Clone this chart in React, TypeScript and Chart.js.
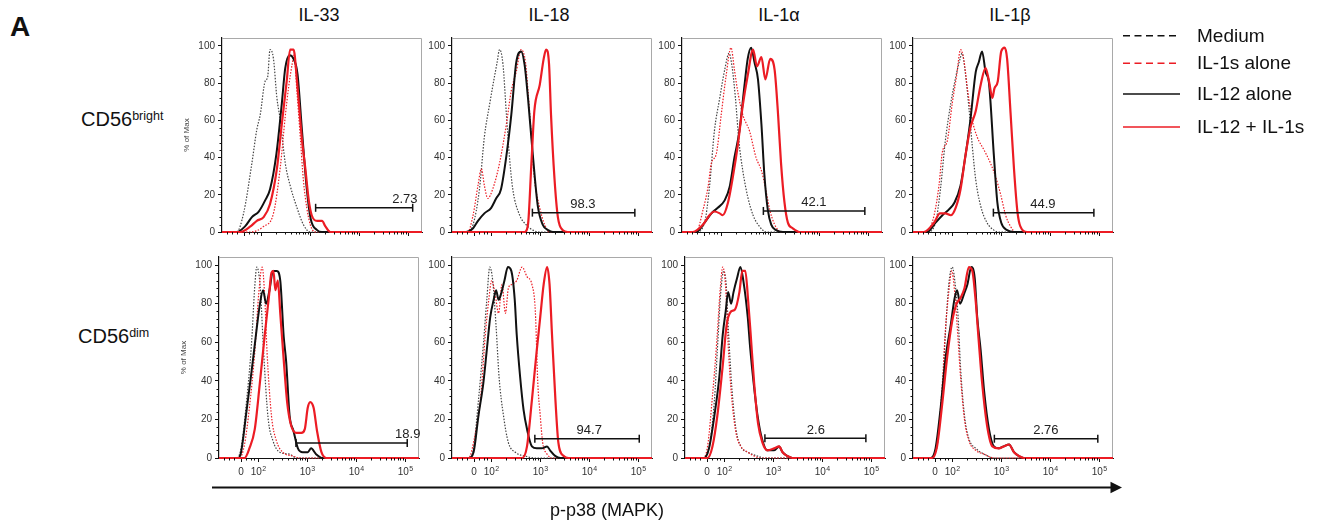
import React, { useEffect, useRef } from 'react';
import { Chart, registerables } from 'chart.js';

Chart.register(...registerables);

const FONT = 'Arial, "Liberation Sans", Helvetica, sans-serif';
Chart.defaults.font.family = FONT;

type P = [number, number];

// axis ranges (x = log10 of p-p38 fluorescence, display scale)
const X_MIN = 1.2;
const X_MAX = 5.28;
const Y_MAX = 104.2;

const columnTitles = ['IL-33', 'IL-18', 'IL-1α', 'IL-1β'];
const rowLabels = ['bright', 'dim'];
const legendLabels = ['Medium', 'IL-1s alone', 'IL-12 alone', 'IL-12 + IL-1s'];
const xTickValues = [1.65, 2, 3, 4, 5];
const xTickLabels = ['0', '10²', '10³', '10⁴', '10⁵'];
const yTickValues = [0, 20, 40, 60, 80, 100];
const xMinorTicks = [1.3, 1.4, 1.5, 1.75, 1.85, 1.92,
  2.3, 2.48, 2.6, 2.7, 2.78, 2.85, 2.9, 2.95,
  3.3, 3.48, 3.6, 3.7, 3.78, 3.85, 3.9, 3.95,
  4.3, 4.48, 4.6, 4.7, 4.78, 4.85, 4.9, 4.95];

// ---- CD56 bright ----
const brightIL33Medium: P[] = [[1.50,0],[1.64,10],[1.81,37],[1.91,55],[1.98,63],[2.08,81],[2.13,83],[2.18,98],[2.25,93],[2.32,72],[2.39,60],[2.49,37],[2.59,25],[2.73,13],[2.86,4],[3.0,0]];
const brightIL33IL1s: P[] = [[1.78,0],[2.05,3],[2.25,10],[2.39,35],[2.49,62],[2.56,78],[2.63,90],[2.67,95],[2.73,75],[2.80,50],[2.86,28],[2.93,13],[3.0,4],[3.10,0]];
const brightIL33IL12: P[] = [[1.50,0],[1.67,3],[1.81,8],[1.95,11],[2.08,17],[2.18,23],[2.31,42],[2.42,69],[2.49,88],[2.58,95],[2.66,93],[2.74,85],[2.83,55],[2.93,23],[3.01,7],[3.14,1],[3.24,0]];
const brightIL33Combo: P[] = [[1.57,0],[1.78,3],[1.91,6],[2.05,8],[2.18,15],[2.32,34],[2.42,58],[2.52,81],[2.59,98],[2.66,98],[2.73,81],[2.83,50],[2.90,34],[2.97,17],[3.03,9],[3.14,6],[3.24,6],[3.31,3],[3.41,0]];

const brightIL18Medium: P[] = [[1.49,0],[1.63,4],[1.76,23],[1.86,51],[1.97,69],[2.07,84],[2.12,91],[2.17,98],[2.24,90],[2.31,63],[2.37,41],[2.44,23],[2.58,9],[2.71,4],[2.85,1],[2.99,0]];
const brightIL18IL1s: P[] = [[1.52,0],[1.63,9],[1.73,25],[1.80,34],[1.86,25],[1.93,18],[2.03,23],[2.17,37],[2.31,58],[2.41,76],[2.51,86],[2.61,98],[2.70,91],[2.75,76],[2.82,51],[2.88,29],[2.99,13],[3.09,4],[3.19,0]];
const brightIL18IL12: P[] = [[1.49,0],[1.63,2],[1.73,6],[1.86,10],[2.0,13],[2.10,18],[2.20,23],[2.31,41],[2.41,63],[2.51,91],[2.61,97],[2.68,90],[2.75,72],[2.85,41],[2.95,14],[3.05,4],[3.16,1],[3.26,0]];
const brightIL18Combo: P[] = [[2.68,0],[2.75,4],[2.82,37],[2.88,65],[2.99,79],[3.07,93],[3.12,98],[3.18,90],[3.22,63],[3.29,29],[3.36,8],[3.46,1],[3.56,0]];

const brightIL1aMedium: P[] = [[1.49,0],[1.66,5],[1.76,24],[1.86,54],[1.97,72],[2.07,87],[2.16,96],[2.22,89],[2.29,72],[2.36,49],[2.44,33],[2.54,19],[2.65,9],[2.78,3],[2.92,0]];
const brightIL1aIL1s: P[] = [[1.49,0],[1.63,12],[1.73,24],[1.80,37],[1.90,42],[2.0,63],[2.10,84],[2.20,99],[2.27,87],[2.34,75],[2.44,63],[2.58,54],[2.71,40],[2.82,33],[2.90,24],[2.99,12],[3.09,4],[3.22,0]];
const brightIL1aIL12: P[] = [[1.49,0],[1.66,5],[1.80,10],[1.93,13],[2.07,17],[2.17,24],[2.27,40],[2.37,54],[2.48,80],[2.54,93],[2.61,99],[2.68,91],[2.75,82],[2.82,58],[2.88,31],[2.95,12],[3.02,4],[3.12,1],[3.26,0]];
const brightIL1aCombo: P[] = [[1.42,0],[1.63,4],[1.76,9],[1.86,11],[1.97,10],[2.03,9],[2.14,16],[2.24,30],[2.34,47],[2.44,68],[2.54,84],[2.65,98],[2.73,89],[2.82,94],[2.90,82],[3.0,93],[3.09,87],[3.16,63],[3.22,37],[3.29,16],[3.36,5],[3.46,2],[3.60,0]];

const brightIL1bMedium: P[] = [[1.49,0],[1.66,5],[1.76,23],[1.86,49],[1.97,69],[2.07,83],[2.16,93],[2.20,96],[2.27,85],[2.34,67],[2.41,46],[2.48,28],[2.58,14],[2.71,5],[2.85,1],[2.95,0]];
const brightIL1bIL1s: P[] = [[1.49,0],[1.63,9],[1.73,25],[1.80,43],[1.90,49],[2.0,69],[2.09,84],[2.17,98],[2.24,92],[2.31,77],[2.41,60],[2.51,51],[2.65,44],[2.78,37],[2.88,30],[2.99,20],[3.09,9],[3.19,3],[3.29,0]];
const brightIL1bIL12: P[] = [[1.49,0],[1.66,5],[1.80,9],[1.93,12],[2.05,16],[2.17,25],[2.27,41],[2.37,60],[2.48,86],[2.54,91],[2.61,97],[2.68,86],[2.75,80],[2.85,41],[2.92,16],[3.0,5],[3.12,1],[3.26,0]];
const brightIL1bCombo: P[] = [[1.42,0],[1.63,5],[1.75,10],[1.86,10],[1.97,9],[2.07,13],[2.17,23],[2.27,41],[2.37,56],[2.48,65],[2.58,79],[2.68,88],[2.75,81],[2.82,72],[2.86,77],[2.93,81],[3.0,97],[3.07,99],[3.12,93],[3.19,64],[3.26,34],[3.33,11],[3.39,3],[3.53,0]];

// ---- CD56 dim ----
const dimIL33Medium: P[] = [[1.55,0],[1.65,5],[1.76,29],[1.86,58],[1.93,89],[1.97,99],[2.04,89],[2.11,55],[2.20,21],[2.30,9],[2.44,3],[2.64,2],[2.78,0]];
const dimIL33IL1s: P[] = [[1.62,0],[1.72,7],[1.82,26],[1.93,55],[2.01,85],[2.08,99],[2.13,85],[2.18,55],[2.27,22],[2.37,9],[2.50,3],[2.71,1],[2.84,0]];
const dimIL33IL12: P[] = [[1.59,0],[1.65,3],[1.76,24],[1.86,44],[1.95,63],[2.03,79],[2.10,87],[2.16,80],[2.23,87],[2.30,97],[2.38,97],[2.45,92],[2.52,63],[2.57,50],[2.64,22],[2.72,14],[2.81,5],[2.91,3],[3.01,3],[3.08,5],[3.18,2],[3.32,0]];
const dimIL33Combo: P[] = [[1.72,0],[1.82,5],[1.93,15],[2.03,38],[2.13,63],[2.22,84],[2.27,96],[2.31,97],[2.35,87],[2.40,92],[2.45,75],[2.52,51],[2.59,29],[2.67,17],[2.78,13],[2.88,13],[2.95,15],[3.01,26],[3.06,29],[3.13,26],[3.20,14],[3.29,3],[3.39,0]];

const dimIL18Medium: P[] = [[1.54,0],[1.64,5],[1.74,30],[1.84,59],[1.91,82],[1.97,99],[2.03,92],[2.10,68],[2.16,42],[2.25,22],[2.35,8],[2.49,3],[2.69,1],[2.90,0]];
const dimIL18IL1s: P[] = [[1.54,0],[1.67,12],[1.78,30],[1.88,64],[1.95,82],[2.01,92],[2.08,85],[2.15,75],[2.22,90],[2.29,75],[2.35,88],[2.42,90],[2.52,92],[2.63,99],[2.73,94],[2.83,90],[2.90,76],[2.95,39],[3.0,22],[3.05,8],[3.14,2],[3.24,0]];
const dimIL18IL12: P[] = [[1.54,0],[1.64,3],[1.74,22],[1.84,39],[1.91,56],[1.98,73],[2.05,82],[2.10,87],[2.15,82],[2.20,85],[2.27,92],[2.34,99],[2.41,97],[2.48,82],[2.52,64],[2.59,42],[2.66,25],[2.73,15],[2.83,6],[2.93,5],[3.03,5],[3.14,6],[3.20,4],[3.31,1],[3.41,0]];
const dimIL18Combo: P[] = [[2.63,0],[2.73,6],[2.83,30],[2.93,56],[3.0,73],[3.07,90],[3.14,99],[3.19,90],[3.24,64],[3.31,30],[3.37,8],[3.48,1],[3.58,0]];

const dimIL1aMedium: P[] = [[1.59,0],[1.69,5],[1.80,30],[1.86,56],[1.93,86],[1.99,97],[2.04,90],[2.09,64],[2.16,35],[2.24,15],[2.34,6],[2.48,3],[2.68,1],[2.82,0]];
const dimIL1aIL1s: P[] = [[1.56,0],[1.66,6],[1.76,32],[1.85,61],[1.92,88],[1.97,99],[2.03,88],[2.08,59],[2.15,32],[2.24,13],[2.34,6],[2.48,3],[2.75,0]];
const dimIL1aIL12: P[] = [[1.59,0],[1.69,5],[1.80,22],[1.90,42],[1.97,64],[2.03,76],[2.08,86],[2.14,80],[2.19,86],[2.26,93],[2.33,99],[2.39,92],[2.48,73],[2.53,57],[2.60,39],[2.68,22],[2.77,10],[2.88,4],[3.02,4],[3.12,6],[3.19,3],[3.29,1],[3.39,0]];
const dimIL1aCombo: P[] = [[1.66,0],[1.76,6],[1.86,22],[1.97,48],[2.05,69],[2.14,76],[2.22,77],[2.31,86],[2.37,97],[2.43,97],[2.49,81],[2.54,64],[2.61,39],[2.69,18],[2.78,8],[2.88,4],[3.02,5],[3.12,6],[3.19,3],[3.29,1],[3.39,0]];

const dimIL1bMedium: P[] = [[1.59,0],[1.69,6],[1.80,35],[1.86,64],[1.93,90],[2.0,99],[2.07,88],[2.12,73],[2.17,47],[2.25,22],[2.34,10],[2.48,5],[2.65,2],[2.85,0]];
const dimIL1bIL1s: P[] = [[1.59,0],[1.69,8],[1.80,39],[1.86,66],[1.93,86],[1.99,97],[2.05,86],[2.10,69],[2.17,42],[2.25,20],[2.34,9],[2.48,4],[2.65,2],[2.85,0]];
const dimIL1bIL12: P[] = [[1.56,0],[1.66,5],[1.76,25],[1.86,51],[1.97,69],[2.05,83],[2.10,87],[2.16,80],[2.24,85],[2.31,90],[2.39,99],[2.46,93],[2.51,73],[2.58,56],[2.65,35],[2.75,15],[2.85,6],[2.95,5],[3.05,6],[3.16,7],[3.26,3],[3.36,1],[3.46,0]];
const dimIL1bCombo: P[] = [[1.59,0],[1.69,6],[1.80,29],[1.90,53],[2.0,71],[2.09,80],[2.17,83],[2.25,88],[2.34,99],[2.41,97],[2.48,81],[2.54,61],[2.61,39],[2.71,17],[2.82,6],[2.95,5],[3.05,6],[3.16,7],[3.26,3],[3.36,1],[3.46,0]];

// gates (row-major: bright IL-33, IL-18, IL-1α, IL-1β, dim IL-33, ...)
const gateStart = [3.11, 2.84, 2.86, 2.84, 2.77, 2.89, 2.83, 2.86];
const gateEnd = [5.09, 4.93, 4.93, 4.89, 5.04, 5.02, 4.89, 4.97];
const gateLevel = [13, 10.4, 11.3, 10.4, 7.8, 10, 10.2, 10];
const gatePercent = ['2.73', '98.3', '42.1', '44.9', '18.9', '94.7', '2.6', '2.76'];
const gateLabelX = [4.93, 3.87, 3.89, 3.85, 5.05, 4.0, 3.87, 3.91];

const panelCurves = [
  [
    { medium: brightIL33Medium, il1s: brightIL33IL1s, il12: brightIL33IL12, combo: brightIL33Combo },
    { medium: brightIL18Medium, il1s: brightIL18IL1s, il12: brightIL18IL12, combo: brightIL18Combo },
    { medium: brightIL1aMedium, il1s: brightIL1aIL1s, il12: brightIL1aIL12, combo: brightIL1aCombo },
    { medium: brightIL1bMedium, il1s: brightIL1bIL1s, il12: brightIL1bIL12, combo: brightIL1bCombo },
  ],
  [
    { medium: dimIL33Medium, il1s: dimIL33IL1s, il12: dimIL33IL12, combo: dimIL33Combo },
    { medium: dimIL18Medium, il1s: dimIL18IL1s, il12: dimIL18IL12, combo: dimIL18Combo },
    { medium: dimIL1aMedium, il1s: dimIL1aIL1s, il12: dimIL1aIL12, combo: dimIL1aCombo },
    { medium: dimIL1bMedium, il1s: dimIL1bIL1s, il12: dimIL1bIL12, combo: dimIL1bCombo },
  ],
];

const RED = '#ec1c24';
const seriesStyles = [
  { key: 'medium', label: legendLabels[0], color: '#444444', legendColor: '#111111', width: 1.2, dash: [1.5, 1.5], order: 3 },
  { key: 'il1s', label: legendLabels[1], color: RED, legendColor: RED, width: 1.2, dash: [1.5, 1.5], order: 2 },
  { key: 'il12', label: legendLabels[2], color: '#111111', legendColor: '#111111', width: 2, dash: [] as number[], order: 1 },
  { key: 'combo', label: legendLabels[3], color: RED, legendColor: RED, width: 2.2, dash: [] as number[], order: 0 },
];

// layout
const PLOT_W = 200;
const rowTop = [35, 254];
const rowPlotH = [200, 204];
const rowXAxisH = [6, 24];
const panelLeft = [
  [222, 452, 682, 913],
  [219, 452, 685, 913],
];
const Y_AXIS_W = 40;
const PAD = 6;

const SUP_DIGITS: Record<string, string> = { '⁰': '0', '¹': '1', '²': '2', '³': '3', '⁴': '4', '⁵': '5', '⁶': '6' };

const withBaseline = (pts: P[]): P[] => [[X_MIN, 0], ...pts, [X_MAX, 0]];

function makeConfig(row: number, col: number): any {
  const curves: any = panelCurves[row][col];
  const g = row * 4 + col;
  const showLabels = row === 1;
  const datasets: any[] = seriesStyles.map((s) => ({
    type: 'line',
    label: s.label,
    data: withBaseline(curves[s.key]).map(([x, y]) => ({ x, y })),
    borderColor: s.color,
    borderWidth: s.width,
    borderDash: s.dash,
    pointRadius: 0,
    fill: false,
    cubicInterpolationMode: 'monotone',
    order: s.order,
    clip: 3,
  }));
  datasets.push({
    type: 'line',
    label: 'gate',
    data: [
      { x: gateStart[g], y: gateLevel[g] },
      { x: gateEnd[g], y: gateLevel[g] },
    ],
    borderColor: '#111',
    borderWidth: 1.5,
    pointStyle: 'line',
    pointRotation: 90,
    pointRadius: 4,
    pointBorderWidth: 1.5,
    pointBorderColor: '#111',
    order: -1,
    clip: false,
  });

  const decor = {
    id: 'decor' + g,
    beforeDatasetsDraw(chart: any) {
      const { ctx, chartArea: a } = chart;
      ctx.save();
      ctx.strokeStyle = '#a9a9a9';
      ctx.lineWidth = 1;
      ctx.beginPath();
      ctx.moveTo(a.left, a.top + 0.5);
      ctx.lineTo(a.right - 0.5, a.top + 0.5);
      ctx.lineTo(a.right - 0.5, a.bottom);
      ctx.stroke();
      ctx.restore();
    },
    afterDraw(chart: any) {
      const { ctx, chartArea: a } = chart;
      const xs = chart.scales.x;
      const ys = chart.scales.y;
      ctx.save();
      ctx.strokeStyle = '#111';
      ctx.lineWidth = 1;
      ctx.beginPath();
      xMinorTicks.forEach((m) => {
        const px = Math.round(xs.getPixelForValue(m)) + 0.5;
        ctx.moveTo(px, a.bottom);
        ctx.lineTo(px, a.bottom + 2.5);
      });
      for (let v = 4; v < 104; v += 4) {
        if (v % 20 === 0) continue;
        const py = Math.round(ys.getPixelForValue(v)) + 0.5;
        ctx.moveTo(a.left - 2.5, py);
        ctx.lineTo(a.left, py);
      }
      ctx.stroke();

      // x tick labels with true superscript exponents
      if (showLabels) {
        ctx.fillStyle = '#333';
        ctx.textBaseline = 'alphabetic';
        ctx.textAlign = 'left';
        const baseY = a.bottom + 17;
        xTickValues.forEach((v, i) => {
          const lbl = xTickLabels[i];
          const cx = xs.getPixelForValue(v);
          const mant = lbl.replace(/[⁰¹²³⁴⁵⁶]/g, '');
          const exp = lbl
            .split('')
            .filter((ch) => SUP_DIGITS[ch] !== undefined)
            .map((ch) => SUP_DIGITS[ch])
            .join('');
          ctx.font = '10px ' + FONT;
          const wm = ctx.measureText(mant).width;
          ctx.font = '7px ' + FONT;
          const we = exp ? ctx.measureText(exp).width : 0;
          const x0 = cx - (wm + we) / 2;
          ctx.font = '10px ' + FONT;
          ctx.fillText(mant, x0, baseY);
          if (exp) {
            ctx.font = '7px ' + FONT;
            ctx.fillText(exp, x0 + wm + 0.3, baseY - 4.5);
          }
        });
      }

      ctx.font = '13px ' + FONT;
      ctx.fillStyle = '#222';
      ctx.textAlign = 'center';
      ctx.textBaseline = 'alphabetic';
      ctx.fillText(gatePercent[g], xs.getPixelForValue(gateLabelX[g]), ys.getPixelForValue(gateLevel[g]) - 4.5);
      ctx.restore();
    },
  };

  return {
    type: 'line',
    data: { datasets },
    plugins: [decor],
    options: {
      animation: false,
      responsive: false,
      events: [],
      layout: { padding: { top: PAD, right: PAD, left: 0, bottom: 0 } },
      plugins: { legend: { display: false }, tooltip: { enabled: false } },
      scales: {
        x: {
          type: 'linear',
          min: X_MIN,
          max: X_MAX,
          afterBuildTicks: (s: any) => {
            s.ticks = xTickValues.map((v) => ({ value: v }));
          },
          afterFit: (s: any) => {
            s.height = rowXAxisH[row];
          },
          ticks: {
            autoSkip: false,
            maxRotation: 0,
            minRotation: 0,
            padding: 3,
            color: '#333',
            font: { size: 10 },
            callback: () => '',
          },
          grid: { drawOnChartArea: false, drawTicks: true, tickLength: 4, color: '#111' },
          border: { display: true, color: '#111', width: 1 },
        },
        y: {
          min: 0,
          max: Y_MAX,
          afterBuildTicks: (s: any) => {
            s.ticks = yTickValues.map((v) => ({ value: v }));
          },
          afterFit: (s: any) => {
            s.width = Y_AXIS_W;
          },
          ticks: {
            padding: 3,
            color: '#333',
            font: { size: 10 },
            callback: (v: any) => String(v),
          },
          title: {
            display: col === 0,
            text: '% of Max',
            color: '#444',
            font: { size: 8 },
            padding: 0,
          },
          grid: { drawOnChartArea: false, drawTicks: true, tickLength: 4, color: '#111' },
          border: { display: true, color: '#111', width: 1.2 },
        },
      },
    },
  };
}

function Panel({ row, col }: { row: number; col: number }) {
  const ref = useRef<HTMLCanvasElement>(null);
  const w = Y_AXIS_W + PLOT_W + PAD;
  const h = PAD + rowPlotH[row] + rowXAxisH[row];
  useEffect(() => {
    const chart = new Chart(ref.current as HTMLCanvasElement, makeConfig(row, col));
    return () => chart.destroy();
  }, [row, col]);
  return (
    <canvas
      ref={ref}
      width={w}
      height={h}
      style={{
        position: 'absolute',
        left: panelLeft[row][col] - Y_AXIS_W,
        top: rowTop[row] - PAD,
        width: w,
        height: h,
      }}
    />
  );
}

const baseText = (size: number, baseline: number): React.CSSProperties => ({
  position: 'absolute',
  fontFamily: FONT,
  fontSize: size,
  lineHeight: `${size}px`,
  top: baseline - 0.8465 * size,
  whiteSpace: 'nowrap',
  color: '#111',
});

const legendLineY = [35.7, 63.3, 94, 127];
const legendTextBase = [41.7, 69.3, 100, 133.3];

export default function App() {
  return (
    <div
      style={{
        position: 'absolute',
        left: 0,
        top: 0,
        width: 1331,
        height: 526,
        background: '#fff',
        overflow: 'hidden',
      }}
    >
      <div style={{ ...baseText(28, 37), left: 10, fontWeight: 'bold' }}>A</div>
      {columnTitles.map((t, c) => (
        <div
          key={t}
          style={{ ...baseText(18, 21.7), left: panelLeft[0][c] - 3, width: PLOT_W, textAlign: 'center' }}
        >
          {t}
        </div>
      ))}
      <div style={{ ...baseText(20, 126), left: 81 }}>
        CD56<span style={{ fontSize: 12.5, lineHeight: '12.5px', verticalAlign: '6px' }}>{rowLabels[0]}</span>
      </div>
      <div style={{ ...baseText(20, 343), left: 78 }}>
        CD56<span style={{ fontSize: 12.5, lineHeight: '12.5px', verticalAlign: '6px' }}>{rowLabels[1]}</span>
      </div>

      {[0, 1].map((r) => [0, 1, 2, 3].map((c) => <Panel key={`${r}-${c}`} row={r} col={c} />))}

      <svg
        width={1331}
        height={526}
        style={{ position: 'absolute', left: 0, top: 0, pointerEvents: 'none' }}
      >
        <line x1={212} y1={487.5} x2={1112} y2={487.5} stroke="#111" strokeWidth={2} />
        <polygon points="1110.5,481.8 1122,487.5 1110.5,493.2" fill="#111" />
        {seriesStyles.map((s, i) => (
          <line
            key={s.key}
            x1={1123}
            x2={1180}
            y1={legendLineY[i]}
            y2={legendLineY[i]}
            stroke={s.legendColor}
            strokeWidth={1.6}
            strokeDasharray={s.dash.length ? '7 4.5' : undefined}
          />
        ))}
      </svg>
      {legendLabels.map((l, i) => (
        <div key={l} style={{ ...baseText(19, legendTextBase[i]), left: 1197 }}>
          {l}
        </div>
      ))}
      <div style={{ ...baseText(18, 516), left: 550 }}>p-p38 (MAPK)</div>
    </div>
  );
}
